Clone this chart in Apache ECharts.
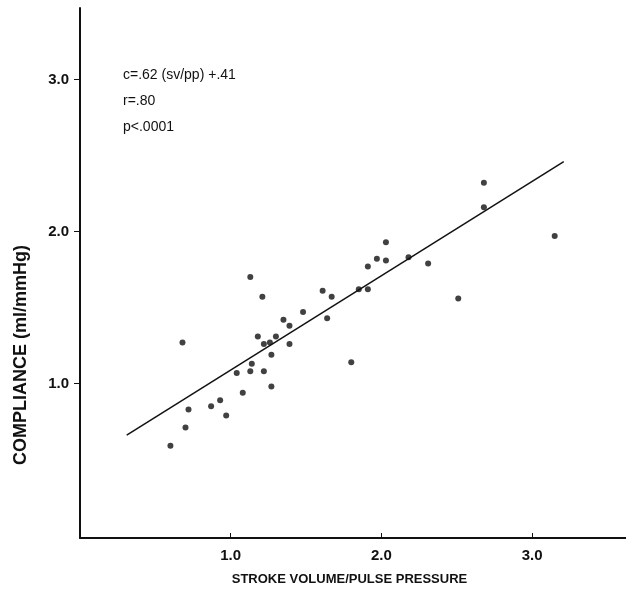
<!DOCTYPE html>
<html>
<head>
<meta charset="utf-8">
<script src="https://cdn.jsdelivr.net/npm/echarts@6/dist/echarts.min.js"></script>
<style>
  html, body { margin: 0; padding: 0; background: #fff; }
  #chart { width: 626px; height: 596px; }
</style>
</head>
<body>
<div id="chart"></div>
<script>
// stroke volume / pulse pressure vs compliance
var svpp = [0.60, 0.70, 0.72, 0.68, 0.87, 0.93, 0.97, 1.04, 1.08, 1.13,
            1.14, 1.22, 1.27, 1.13, 1.21, 1.18, 1.22, 1.26, 1.30, 1.27,
            1.39, 1.35, 1.39, 1.48, 1.61, 1.67, 1.64, 1.85, 1.91, 1.91,
            1.97, 2.03, 2.03, 2.18, 2.31, 2.51, 2.68, 2.68, 3.15, 1.80];
var compliance = [0.59, 0.71, 0.83, 1.27, 0.85, 0.89, 0.79, 1.07, 0.94, 1.08,
                  1.13, 1.08, 0.98, 1.70, 1.57, 1.31, 1.26, 1.27, 1.31, 1.19,
                  1.26, 1.42, 1.38, 1.47, 1.61, 1.57, 1.43, 1.62, 1.62, 1.77,
                  1.82, 1.81, 1.93, 1.83, 1.79, 1.56, 2.32, 2.16, 1.97, 1.14];
// regression line as drawn (end points)
var fitX = [0.31, 3.21];
var fitY = [0.66, 2.46];
var xTicks = [1, 2, 3];
var yTicks = [1, 2, 3];
var notes = ['c=.62 (sv/pp) +.41', 'r=.80', 'p<.0001'];

var ink = '#111';
var font = '"Liberation Sans", Arial, Helvetica, sans-serif';

var pts = svpp.map(function (v, i) { return [v, compliance[i]]; });
var fit = fitX.map(function (v, i) { return [v, fitY[i]]; });

var option = {
  animation: false,
  backgroundColor: '#fff',
  grid: { left: 80, right: 0, top: 8, bottom: 58 },
  xAxis: {
    type: 'value',
    min: 0,
    max: 3.623,
    name: 'STROKE VOLUME/PULSE PRESSURE',
    nameLocation: 'middle',
    nameGap: 35,
    nameTextStyle: {
      color: ink, fontFamily: font, fontWeight: 'bold', fontSize: 13,
      padding: [0, 7, 0, 0]
    },
    axisLine: { onZero: false, lineStyle: { color: ink, width: 2 } },
    axisTick: { inside: true, length: 5, customValues: xTicks, lineStyle: { color: ink, width: 1 } },
    axisLabel: {
      customValues: xTicks, margin: 10, color: ink, fontFamily: font,
      fontWeight: 'bold', fontSize: 15,
      formatter: function (v) { return v.toFixed(1); }
    },
    splitLine: { show: false }
  },
  yAxis: {
    type: 'value',
    min: -0.016,
    max: 3.47,
    name: 'COMPLIANCE (ml/mmHg)',
    nameLocation: 'middle',
    nameGap: 50,
    nameRotate: 90,
    nameTextStyle: {
      color: ink, fontFamily: font, fontWeight: 'bold', fontSize: 18,
      padding: [0, 164, 0, 0]
    },
    axisLine: { onZero: false, lineStyle: { color: ink, width: 2 } },
    axisTick: { length: 6, customValues: yTicks, lineStyle: { color: ink, width: 1 } },
    axisLabel: {
      customValues: yTicks, margin: 11, color: ink, fontFamily: font,
      fontWeight: 'bold', fontSize: 15,
      formatter: function (v) { return v.toFixed(1); }
    },
    splitLine: { show: false }
  },
  graphic: notes.map(function (t, i) {
    return {
      type: 'text', left: 123, top: 68 + i * 26,
      style: { text: t, fill: ink, font: '14px ' + font }
    };
  }),
  series: [
    {
      type: 'line',
      data: fit,
      symbol: 'none',
      lineStyle: { color: ink, width: 1.5 },
      z: 2
    },
    {
      type: 'scatter',
      data: pts,
      symbol: 'circle',
      symbolSize: 6,
      itemStyle: { color: ink },
      z: 3
    }
  ]
};

var myChart = echarts.init(document.getElementById('chart'));
myChart.setOption(option);
</script>
</body>
</html>
